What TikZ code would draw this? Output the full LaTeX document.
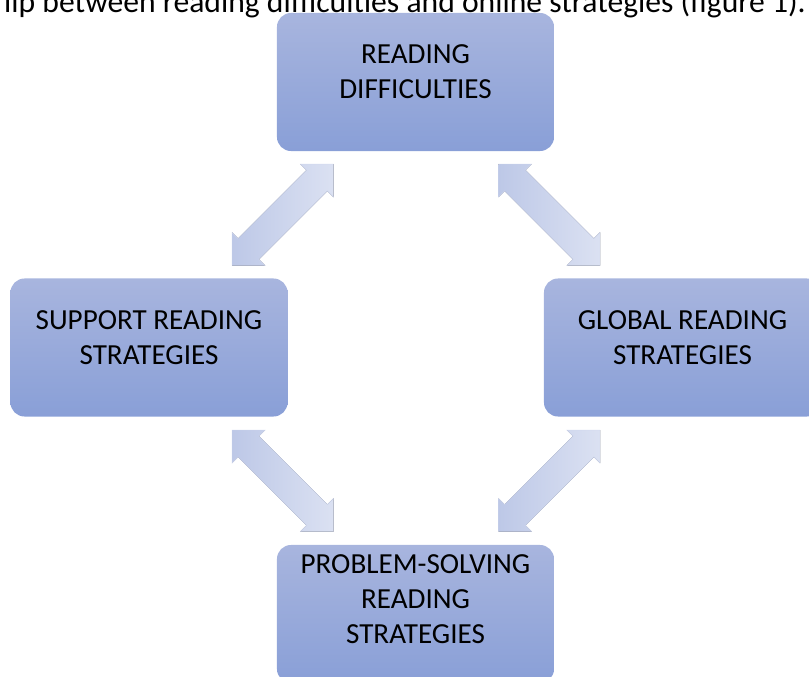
\documentclass[tikz,border=0pt]{standalone}
\usepackage{fontspec}
\setmainfont{Carlito}
\usetikzlibrary{calc}
\definecolor{boxtop}{RGB}{168,181,222}
\definecolor{boxbot}{RGB}{137,159,215}
\definecolor{arrowdark}{RGB}{189,200,231}
\definecolor{arrowlight}{RGB}{219,225,242}
% fat two-headed arrow between two tips
\newcommand{\fatarrow}[2]{%
\fill[left color=arrowdark, right color=arrowlight, draw=arrowdark!50!arrowlight, line width=0.3pt]
  (#1) -- ($(#1)!16.6pt!(#2)!16.6pt!90:(#2)$) -- ($(#1)!16.6pt!(#2)!10.5pt!90:(#2)$)
  -- ($(#2)!16.6pt!(#1)!10.5pt!-90:(#1)$) -- ($(#2)!16.6pt!(#1)!16.6pt!-90:(#1)$)
  -- (#2) -- ($(#2)!16.6pt!(#1)!16.6pt!90:(#1)$) -- ($(#2)!16.6pt!(#1)!10.5pt!90:(#1)$)
  -- ($(#1)!16.6pt!(#2)!10.5pt!-90:(#2)$) -- ($(#1)!16.6pt!(#2)!16.6pt!-90:(#2)$) -- cycle;}
\begin{document}
\begin{tikzpicture}[x=0.025cm, y=-0.025cm,
  box/.style={rounded corners=10pt, top color=boxtop, bottom color=boxbot,
    minimum width=6.925cm, minimum height=3.45cm, inner sep=0pt, align=center,
    font=\fontsize{20.7}{24.9}\selectfont, text depth=14.2pt}]
\useasboundingbox (0,0) rectangle (809,677);
\clip (0,0) rectangle (809,677);
\node[anchor=base, inner sep=0pt, font=\fontsize{22.5}{27}\selectfont] (title) at (405,12)
  {lip between reading difficulties and online strategies (figure 1).};
\node[box] (diff) at (415.5,82) {READING\\DIFFICULTIES};
\node[box] (support) at (149,347.5) {SUPPORT READING\\STRATEGIES};
\node[box] (global) at (682.5,347.5) {GLOBAL READING\\STRATEGIES};
\node[box, text depth=21.3pt] (solve) at (415.5,614) {PROBLEM-SOLVING\\READING\\STRATEGIES};
% arrow tips
\coordinate (tl1) at (232,265.5);   \coordinate (tl2) at (333.5,164);
\coordinate (tr1) at (498.5,164);   \coordinate (tr2) at (600,265.5);
\coordinate (bl1) at (232,430);     \coordinate (bl2) at (333.5,531.5);
\coordinate (br1) at (498.5,531.5); \coordinate (br2) at (600,430);
\foreach \a/\b in {tl1/tl2, tr1/tr2, bl1/bl2, br1/br2}
  \fatarrow{\a}{\b};
\end{tikzpicture}
\end{document}
